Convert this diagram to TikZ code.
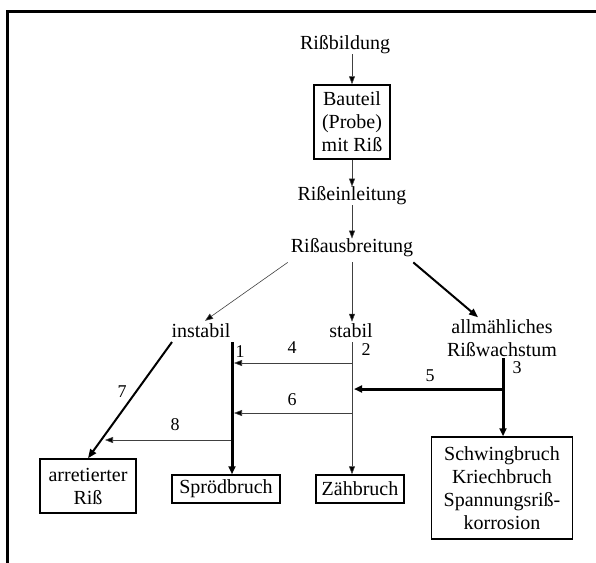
\documentclass[tikz,border=0pt]{standalone}
\usepackage{fontspec}
\setmainfont{Liberation Serif}
\usetikzlibrary{arrows.meta}
\begin{document}
\begin{tikzpicture}[x=1pt,y=-1pt,
  txt/.style={inner sep=0pt,align=center,font=\fontsize{20}{23}\selectfont},
  lbl/.style={inner sep=0pt,font=\fontsize{18}{20}\selectfont},
  boxn/.style={draw,line width=1.5pt,inner sep=0pt,align=center,font=\fontsize{20}{23}\selectfont},
  thinarr/.style={line width=0.6pt,draw=black!75,-{Triangle[length=8pt,width=6pt,fill=black]}},
  thickarr/.style={line width=3pt,-{Triangle[length=8pt,width=7pt]}},
  midarr/.style={line width=2pt,-{Triangle[length=9pt,width=7pt]}}]
\useasboundingbox (0,0) rectangle (596,562);
\draw[line width=3pt] (7,570) -- (7,11) -- (605,11);

\node[txt] (bild) at (345,45) {Rißbildung};
\node[boxn,minimum width=76pt,minimum height=74pt] (probe) at (352,122) {Bauteil\\(Probe)\\mit Riß};
\node[txt] (einl) at (352,196) {Rißeinleitung};
\node[txt] (ausb) at (352,248) {Rißausbreitung};
\node[txt] (inst) at (201,331) {instabil};
\node[txt] (stab) at (351,331) {stabil};
\node[txt] (allm) at (502,338) {allmähliches\\Rißwachstum};
\node[boxn,minimum width=96pt,minimum height=54pt] (arr) at (88,486) {arretierter\\Riß};
\node[boxn,minimum width=108pt,minimum height=28pt] (spro) at (226,489) {Sprödbruch};
\node[boxn,minimum width=88pt,minimum height=28pt] (zaeh) at (360,489) {Zähbruch};
\node[boxn,minimum width=141pt,minimum height=102pt] (schw) at (502,488) {Schwingbruch\\Kriechbruch\\Spannungsriß-\\korrosion};

\node[lbl] (l1) at (240,352) {1};
\node[lbl] (l2) at (366,350) {2};
\node[lbl] (l3) at (517,368) {3};
\node[lbl] (l4) at (292,348) {4};
\node[lbl] (l5) at (430,376) {5};
\node[lbl] (l6) at (292,400) {6};
\node[lbl] (l7) at (122,392) {7};
\node[lbl] (l8) at (175,425) {8};

\coordinate (a1) at (232,342);
\coordinate (a2) at (352,342);
\coordinate (a3) at (503,358);
\coordinate (b7) at (172,342);
\coordinate (h4s) at (352,363);
\coordinate (h4e) at (234,363);
\coordinate (h5s) at (503,389);
\coordinate (h5e) at (354,389);
\coordinate (h6s) at (352,413);
\coordinate (h6e) at (234,413);
\coordinate (h8s) at (231,440);
\coordinate (h8e) at (105,440);

\draw[thinarr] (bild.south -| probe.north) -- (probe.north);
\draw[thinarr] (probe.south) -- (einl.north);
\draw[thinarr] (einl.south) -- (ausb.north);
\draw[thinarr] ([shift={(-3,5)}]ausb.south west) -- ([shift={(4,-3)}]inst.north);
\draw[thinarr] ([shift={(0,5)}]ausb.south) -- ([shift={(1,-2)}]stab.north);
\draw[midarr] ([shift={(0,5)}]ausb.south east) -- ([shift={(-24,-2)}]allm.north);

\draw[thickarr] (a1) -- (a1 |- spro.north);
\draw[thinarr] (a2) -- (a2 |- zaeh.north);
\draw[thickarr] (a3) -- (a3 |- schw.north);
\draw[midarr] (b7) -- (arr.north);

\draw[thinarr] (h4s) -- (h4e);
\draw[thickarr] (h5s) -- (h5e);
\draw[thinarr] (h6s) -- (h6e);
\draw[thinarr] (h8s) -- (h8e);
\end{tikzpicture}
\end{document}
